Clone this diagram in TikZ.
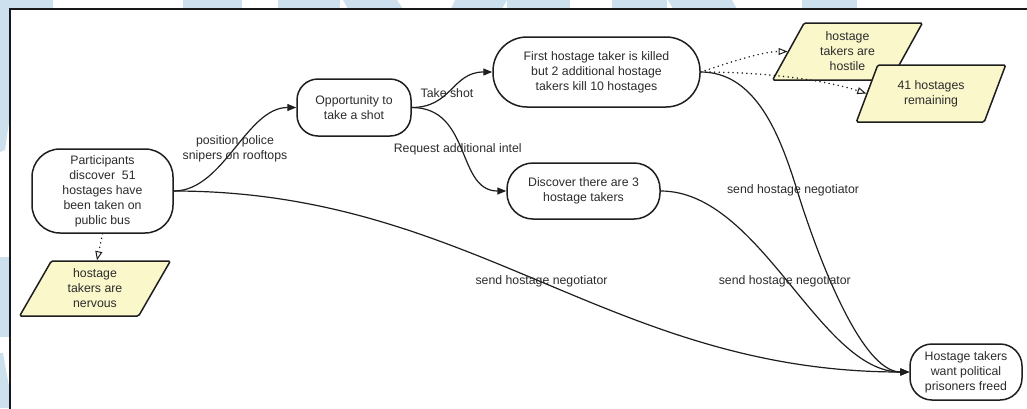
\documentclass[tikz,border=0pt]{standalone}
\usepackage{fontspec}
\setmainfont{Liberation Sans}
\usetikzlibrary{arrows.meta,shapes.geometric}
\definecolor{wmblue}{HTML}{CDE0EE}
\definecolor{noteyellow}{HTML}{FAF7CB}
\definecolor{ink}{HTML}{1E1E1E}
\definecolor{txt}{HTML}{2C2C2C}
\begin{document}
\begin{tikzpicture}[x=1pt,y=-1pt,
  base/.style={font=\fontsize{12.3}{15}\selectfont, text=txt, align=center, inner sep=0pt},
  evt/.style={base, draw=ink, line width=1.5pt, fill=white, rounded corners=#1},
  note/.style={base, draw=ink, line width=1.5pt, fill=noteyellow, trapezium,
    trapezium left angle=63, trapezium right angle=117, trapezium stretches=true,
    rounded corners=1.5pt},
  lbl/.style={base},
  flow/.style={draw=ink, line width=1.2pt, -{Triangle[length=9pt,width=7pt]}},
  hint/.style={draw=ink, line width=1.7pt, dash pattern=on 0.01pt off 4.6pt, line cap=round,
    -{Triangle[open,length=9pt,width=7pt,line width=1pt]}}
]
\useasboundingbox (0,0) rectangle (1027,408);

% faint lettering behind the sheet
\fill[wmblue] (0,0) rectangle (53,9);
\fill[wmblue] (183,0) rectangle (242,9);
\fill[wmblue] (278,0) rectangle (340,9);
\fill[wmblue] (343,0) -- (397,0) -- (403,9) -- (348,9) -- cycle;
\fill[wmblue] (455,0) -- (507,0) -- (502,9) -- (451,9) -- cycle;
\fill[wmblue] (507,0) rectangle (570,9);
\fill[wmblue] (612,0) rectangle (667,9);
\fill[wmblue] (668,0) -- (732,0) -- (737,9) -- (673,9) -- cycle;
\fill[wmblue] (802,0) rectangle (857,9);
\fill[wmblue] (0,0) rectangle (10,115);
\fill[wmblue] (0,115) -- (10,115) -- (5,150) -- (0,152) -- cycle;
\fill[wmblue] (0,257) rectangle (10,337);
\fill[wmblue] (0,353) -- (3,353) -- (10,392) -- (10,408) -- (0,408) -- cycle;

% sheet
\fill[white] (10,9) rectangle (1027,408);
\draw[line width=2pt, black!90] (10,409) -- (10,9) -- (1028,9);

% events
\node[evt=28, minimum width=141, minimum height=84] (p) at (102.5,191)
  {Participants\\discover\ \ 51\\hostages have\\been taken on\\public bus};
\node[evt=21, minimum width=114, minimum height=57] (o) at (354,107.5)
  {Opportunity to\\take a shot};
\node[evt=34, minimum width=207, minimum height=70] (f) at (596.5,72)
  {First hostage taker is killed\\but 2 additional hostage\\takers kill 10 hostages};
\node[evt=26, minimum width=153, minimum height=56] (d) at (583.5,191)
  {Discover there are 3\\hostage takers};
\node[evt=22, minimum width=112, minimum height=56] (h) at (966,372)
  {Hostage takers\\want political\\prisoners freed};

% observations
\node[note, minimum width=152, minimum height=55] (nv) at (95,288.5)
  {hostage\\takers are\\nervous};
\node[note, minimum width=151, minimum height=57] (hs) at (847.5,51.5)
  {hostage\\takers are\\hostile};
\node[note, minimum width=150, minimum height=57] (rm) at (931,93.5)
  {41 hostages\\remaining};

% actions
\draw[flow] (p.east) .. controls +(50,0) and +(-50,0) .. (o.west)
  node[lbl, pos=0.5] {position police\\snipers on rooftops};
\draw[flow] (o.east) .. controls +(40,0) and +(-40,0) .. (f.west)
  node[lbl, pos=0.45, xshift=-2pt, yshift=-1pt] {Take shot};
\draw[flow] (o.east) .. controls +(60,0) and +(-50,0) .. (d.west)
  node[lbl, pos=0.5, xshift=-5pt] {Request additional intel};
\draw[flow] (p.east) .. controls +(300,0) and +(-300,0) .. (h.west)
  node[lbl, pos=0.5] {send hostage negotiator};
\coordinate (fbend) at (797,190);
\draw[flow] (f.east) .. controls +(55,0) and (780,135) .. (fbend)
  node[lbl, xshift=-4pt] {send hostage negotiator}
  .. controls (814,245) and +(-50,0) .. (h.west);
\draw[flow] (d.east) .. controls +(100,0) and +(-90,0) .. (h.west)
  node[lbl, pos=0.5, xshift=-4pt] {send hostage negotiator};

% links to observations
\draw[hint] (p.south) -- ([xshift=2pt]nv.north);
\draw[hint] (f.east) .. controls +(30,-10) and +(-25,0) .. (hs.west);
\draw[hint] (f.east) .. controls +(80,0) and +(-30,-10) .. (rm.west);
\end{tikzpicture}
\end{document}
